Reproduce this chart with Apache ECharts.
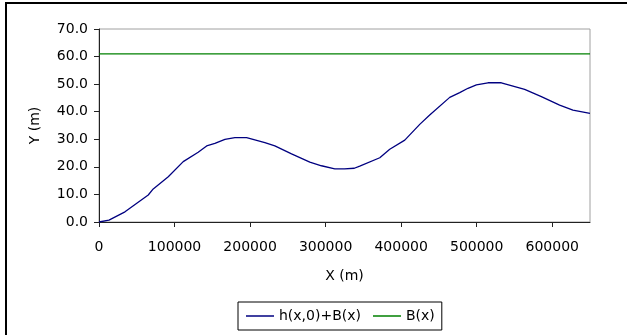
<!DOCTYPE html>
<html>
<head>
<meta charset="utf-8">
<script src="https://cdn.jsdelivr.net/npm/echarts@6/dist/echarts.min.js"></script>
<style>
html,body{margin:0;padding:0;background:#fff;}
#chart{width:627px;height:335px;}
</style>
</head>
<body>
<div id="chart"></div>
<script>
// Surface profile h(x,0)+B(x): x positions (m) and heights (m)
var profileX = [0, 13200, 34400, 65200, 71800, 91700, 111500, 131300, 142500, 153400, 166700, 179900, 195400, 219600, 232800, 254900, 279100, 294500, 312200, 325000, 338000, 345200, 371700, 384900, 404800, 424600, 437800, 464300, 477500, 488500, 499600, 514900, 532600, 563500, 585600, 609800, 627400, 650000];
var profileY = [0.0, 0.7, 3.7, 9.8, 12.0, 16.4, 21.9, 25.3, 27.6, 28.5, 30.0, 30.6, 30.6, 28.8, 27.6, 24.7, 21.7, 20.4, 19.3, 19.3, 19.5, 20.3, 23.3, 26.4, 29.7, 35.4, 38.8, 45.2, 46.9, 48.5, 49.7, 50.5, 50.5, 48.1, 45.5, 42.4, 40.6, 39.4];
// Level B(x)
var levelX = [0, 650000];
var levelY = [61.0, 61.0];
var seriesNames = ['h(x,0)+B(x)', 'B(x)'];

function pairs(xs, ys){ return xs.map(function(x,i){ return [x, ys[i]]; }); }

var chart = echarts.init(document.getElementById('chart'), null, {renderer:'canvas'});
var font = '"DejaVu Sans", sans-serif';
chart.setOption({
  animation: false,
  backgroundColor: '#fff',
  textStyle: {fontFamily: font},
  graphic: [{
    type: 'rect', silent: true, z: -1,
    shape: {x: 6, y: 3, width: 700, height: 400},
    style: {fill: 'none', stroke: '#000', lineWidth: 2}
  }],
  grid: {left: 99, top: 29, right: 37, bottom: 113, show: true, borderColor: '#a0a0a0', borderWidth: 1, backgroundColor: 'transparent'},
  xAxis: {
    type: 'value', min: 0, max: 650000, interval: 100000,
    name: 'X (m)', nameLocation: 'middle', nameGap: 47,
    nameTextStyle: {fontSize: 14, color: '#000', fontFamily: font},
    axisLine: {show: true, onZero: false, lineStyle: {color: '#222', width: 1}},
    axisTick: {show: true, length: 5, lineStyle: {color: '#222'}},
    axisLabel: {fontSize: 14, color: '#000', margin: 18, fontFamily: font, showMaxLabel: false,
      formatter: function(v){ return String(v); }},
    splitLine: {show: false}
  },
  yAxis: {
    type: 'value', min: 0, max: 70, interval: 10,
    name: 'Y (m)', nameLocation: 'middle', nameGap: 57, nameRotate: 90,
    nameTextStyle: {fontSize: 14, color: '#000', fontFamily: font},
    axisLine: {show: true, lineStyle: {color: '#222', width: 1}},
    axisTick: {show: true, length: 5, lineStyle: {color: '#222'}},
    axisLabel: {fontSize: 14, color: '#000', margin: 11, fontFamily: font, formatter: function(v){ return v.toFixed(1); }},
    splitLine: {show: false}
  },
  legend: {
    left: 238, top: 302, orient: 'horizontal',
    padding: [7, 7, 7, 8],
    borderColor: '#000', borderWidth: 1,
    itemWidth: 28, itemHeight: 1.5, itemGap: 12,
    icon: 'rect',
    textStyle: {fontSize: 14, color: '#000', fontFamily: font},
    data: seriesNames
  },
  series: [{
    name: seriesNames[0], type: 'line', showSymbol: false, symbol: 'none',
    data: pairs(profileX, profileY),
    lineStyle: {color: '#000080', width: 1.3}, itemStyle: {color: '#000080'}
  }, {
    name: seriesNames[1], type: 'line', showSymbol: false, symbol: 'none',
    data: pairs(levelX, levelY),
    lineStyle: {color: '#008000', width: 1.2}, itemStyle: {color: '#008000'}
  }]
});
</script>
</body>
</html>
